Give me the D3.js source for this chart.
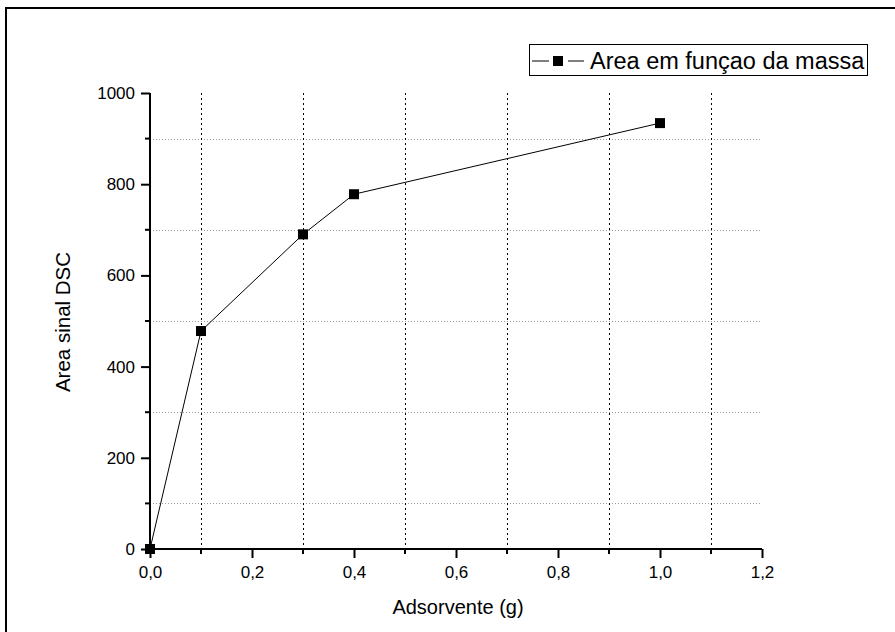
<!DOCTYPE html>
<html><head><meta charset="utf-8">
<script src="https://cdn.jsdelivr.net/npm/d3@7"></script>
<style>body{margin:0;background:#fff}svg{display:block}text{font-family:"Liberation Sans",Arial,sans-serif}</style>
</head><body>
<script>
const xValues = [0.0, 0.1, 0.3, 0.4, 1.0];
const yValues = [0, 478, 690, 778, 934];
const xTicks = [0, 0.2, 0.4, 0.6, 0.8, 1.0, 1.2];
const yTicks = [0, 200, 400, 600, 800, 1000];
const xMinor = [0.1, 0.3, 0.5, 0.7, 0.9, 1.1];
const yMinor = [100, 300, 500, 700, 900];
const seriesName = "Area em funçao da massa";
const xTitle = "Adsorvente (g)";
const yTitle = "Area sinal DSC";

const W = 895, H = 632;
const FF = '"Liberation Sans",Arial,sans-serif';
const svg = d3.select("body").append("svg").attr("width", W).attr("height", H);
const x = d3.scaleLinear().domain([0, 1.2]).range([150, 762]);
const y = d3.scaleLinear().domain([0, 1000]).range([549, 93]);

// frame
svg.append("rect").attr("x", 6).attr("y", 8).attr("width", W + 10).attr("height", H + 10)
  .attr("fill", "none").attr("stroke", "#000").attr("stroke-width", 2);

// grid
svg.append("g").selectAll("line").data(yMinor).join("line")
  .attr("x1", x(0)).attr("x2", x(1.2)).attr("y1", d => Math.round(y(d)) + 0.5).attr("y2", d => Math.round(y(d)) + 0.5)
  .attr("stroke", "#999").attr("stroke-width", 1).attr("stroke-dasharray", "1,2");
svg.append("g").selectAll("line").data(xMinor).join("line")
  .attr("x1", d => Math.round(x(d)) + 0.5).attr("x2", d => Math.round(x(d)) + 0.5)
  .attr("y1", y(1000)).attr("y2", y(0))
  .attr("stroke", "#000").attr("stroke-width", 1).attr("stroke-dasharray", "2,3");

// axes
const xAxis = d3.axisBottom(x).tickValues(xTicks).tickSize(9).tickPadding(8)
  .tickFormat(d => d3.format(".1f")(d).replace(".", ","));
const gx = svg.append("g").attr("transform", `translate(0,${y(0)})`).call(xAxis);
gx.selectAll(".tick line").attr("stroke-width", 2);
gx.select(".domain").attr("stroke-width", 2).attr("d", `M${x(0)},0H${x(1.2)}`);
gx.selectAll("text").attr("font-size", 17).attr("fill", "#000").attr("font-family", FF);
svg.append("g").attr("transform", `translate(0,${y(0)})`).selectAll("line").data(xMinor).join("line")
  .attr("x1", d => x(d)).attr("x2", d => x(d)).attr("y1", 0).attr("y2", 5).attr("stroke", "#000").attr("stroke-width", 2);

const yAxis = d3.axisLeft(y).tickValues(yTicks).tickSize(9).tickPadding(6).tickFormat(d3.format("d"));
const gy = svg.append("g").attr("transform", `translate(${x(0)},0)`).call(yAxis);
gy.selectAll(".tick line").attr("stroke-width", 2);
gy.select(".domain").attr("stroke-width", 2).attr("d", `M0,${y(0)}V${y(1000)}`);
gy.selectAll("text").attr("font-size", 17).attr("fill", "#000").attr("font-family", FF);
svg.append("g").attr("transform", `translate(${x(0)},0)`).selectAll("line").data(yMinor).join("line")
  .attr("x1", -5).attr("x2", 0).attr("y1", d => y(d)).attr("y2", d => y(d)).attr("stroke", "#000").attr("stroke-width", 2);

// titles
svg.append("text").attr("x", 458).attr("y", 614).attr("text-anchor", "middle").attr("font-size", 20).text(xTitle);
svg.append("text").attr("transform", `translate(70,${322}) rotate(-90)`).attr("text-anchor", "middle").attr("font-size", 20.5).text(yTitle);

// series
const pts = xValues.map((v, i) => [v, yValues[i]]);
svg.append("path").datum(pts).attr("fill", "none").attr("stroke", "#000").attr("stroke-width", 1)
  .attr("d", d3.line().x(d => x(d[0])).y(d => y(d[1])));
svg.append("g").selectAll("rect").data(pts).join("rect")
  .attr("x", d => x(d[0]) - 5).attr("y", d => y(d[1]) - 5).attr("width", 10).attr("height", 10).attr("fill", "#000");

// legend
const lg = svg.append("g");
lg.append("rect").attr("x", 529.5).attr("y", 44.5).attr("width", 338).attr("height", 31)
  .attr("fill", "#fff").attr("stroke", "#000").attr("stroke-width", 1);
lg.append("line").attr("x1", 532).attr("x2", 584).attr("y1", 61).attr("y2", 61).attr("stroke", "#000").attr("stroke-width", 1);
lg.append("line").attr("x1", 549).attr("x2", 568).attr("y1", 61).attr("y2", 61).attr("stroke", "#fff").attr("stroke-width", 3);
lg.append("rect").attr("x", 553).attr("y", 56).attr("width", 10).attr("height", 10).attr("fill", "#000");
lg.append("text").attr("x", 590).attr("y", 69).attr("font-size", 23.5).text(seriesName);
</script>
</body></html>
